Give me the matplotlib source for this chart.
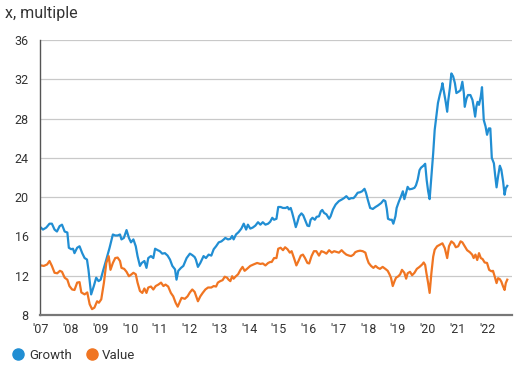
import matplotlib
matplotlib.use("Agg")
import matplotlib.pyplot as plt
from matplotlib.lines import Line2D

# chart data (decimal years)
growth_t = [2007.00, 2007.07, 2007.18, 2007.29, 2007.37, 2007.46, 2007.54, 2007.63, 2007.71, 2007.80,
            2007.89, 2007.94, 2008.02, 2008.08, 2008.13, 2008.22, 2008.30, 2008.39, 2008.47, 2008.55,
            2008.60, 2008.69, 2008.78, 2008.86, 2008.94, 2009.01, 2009.09, 2009.20, 2009.31, 2009.42,
            2009.50, 2009.58, 2009.66, 2009.71, 2009.79, 2009.88, 2009.96, 2010.03, 2010.11, 2010.19,
            2010.25, 2010.33, 2010.39, 2010.48, 2010.55, 2010.61, 2010.70, 2010.78, 2010.84, 2010.93,
            2011.00, 2011.08, 2011.17, 2011.26, 2011.34, 2011.42, 2011.51, 2011.56, 2011.62, 2011.71,
            2011.79, 2011.90, 2012.01, 2012.09, 2012.17, 2012.21, 2012.28, 2012.36, 2012.47, 2012.55,
            2012.64, 2012.73, 2012.81, 2012.89, 2012.98, 2013.07, 2013.15, 2013.20, 2013.29, 2013.37,
            2013.43, 2013.48, 2013.56, 2013.65, 2013.74, 2013.82, 2013.90, 2013.96, 2014.04, 2014.12,
            2014.21, 2014.30, 2014.38, 2014.46, 2014.55, 2014.64, 2014.71, 2014.78, 2014.84, 2014.92,
            2014.98, 2015.06, 2015.14, 2015.23, 2015.29, 2015.34, 2015.40, 2015.45, 2015.51, 2015.57,
            2015.62, 2015.68, 2015.76, 2015.82, 2015.88, 2015.96, 2016.02, 2016.07, 2016.13, 2016.21,
            2016.27, 2016.35, 2016.41, 2016.46, 2016.52, 2016.60, 2016.69, 2016.74, 2016.82, 2016.91,
            2017.02, 2017.11, 2017.19, 2017.27, 2017.36, 2017.43, 2017.51, 2017.57, 2017.65, 2017.73,
            2017.80, 2017.88, 2017.93, 2017.99, 2018.07, 2018.16, 2018.25, 2018.33, 2018.44, 2018.52,
            2018.58, 2018.63, 2018.67, 2018.74, 2018.80, 2018.85, 2018.92, 2018.96, 2019.03, 2019.11,
            2019.17, 2019.22, 2019.28, 2019.33, 2019.39, 2019.48, 2019.56, 2019.61, 2019.67, 2019.73,
            2019.78, 2019.86, 2019.92, 2019.97, 2020.02, 2020.07, 2020.13, 2020.19, 2020.24, 2020.30,
            2020.35, 2020.41, 2020.47, 2020.50, 2020.55, 2020.61, 2020.66, 2020.69, 2020.75, 2020.80,
            2020.86, 2020.92, 2020.97, 2021.05, 2021.11, 2021.17, 2021.22, 2021.25, 2021.31, 2021.36,
            2021.44, 2021.51, 2021.55, 2021.60, 2021.64, 2021.68, 2021.73, 2021.79, 2021.83, 2021.89,
            2021.95, 2022.00, 2022.06, 2022.11, 2022.16, 2022.23, 2022.27, 2022.32, 2022.37, 2022.43,
            2022.48, 2022.54, 2022.59, 2022.63, 2022.68]
growth_v = [16.9, 16.7, 16.9, 17.3, 17.3, 16.7, 16.5, 17.05, 17.2, 16.5,
            16.4, 14.85, 14.7, 14.75, 14.3, 14.85, 15.0, 14.3, 13.8, 13.65,
            12.6, 10.1, 10.95, 11.8, 11.45, 11.6, 12.5, 13.65, 14.85, 16.2,
            16.1, 16.1, 16.2, 15.7, 15.85, 16.65, 15.85, 15.4, 15.7, 15.0,
            14.0, 13.0, 13.3, 13.5, 12.8, 13.8, 14.0, 13.8, 14.75, 14.6,
            14.5, 14.25, 14.3, 14.05, 13.65, 13.0, 12.65, 11.6, 12.5, 12.8,
            13.0, 13.8, 14.25, 14.1, 13.9, 13.65, 12.9, 13.3, 14.0, 13.8,
            14.15, 14.05, 14.7, 15.0, 15.4, 15.5, 15.7, 15.85, 15.7, 15.75,
            16.05, 15.7, 16.2, 16.45, 16.8, 17.3, 16.7, 17.2, 16.8, 16.9,
            17.1, 17.45, 17.2, 17.45, 17.2, 17.3, 17.5, 17.9, 17.7, 17.8,
            19.0, 19.0, 18.9, 18.9, 19.0, 18.75, 18.9, 18.4, 17.7, 16.95,
            17.4, 18.05, 18.35, 18.15, 17.7, 17.1, 17.05, 17.7, 17.9, 17.7,
            18.0, 18.05, 18.55, 18.7, 18.4, 18.25, 17.8, 18.05, 18.75, 19.25,
            19.6, 19.75, 19.9, 20.1, 19.8, 19.9, 19.9, 20.1, 20.45, 20.5,
            20.6, 20.85, 20.45, 19.75, 18.9, 18.8, 19.0, 19.15, 19.4, 19.7,
            19.6, 18.8, 17.8, 17.7, 17.7, 17.3, 18.05, 18.9, 19.5, 20.1,
            20.6, 19.8, 20.45, 21.05, 20.8, 20.85, 20.95, 21.2, 21.8, 22.75,
            23.0, 23.2, 23.4, 21.75, 20.6, 19.8, 22.1, 24.5, 26.85, 28.4,
            29.6, 30.4, 31.1, 31.6, 30.75, 29.7, 28.7, 29.7, 31.1, 32.6,
            32.3, 31.6, 30.6, 30.75, 30.9, 31.75, 30.6, 29.2, 30.05, 30.4,
            30.4, 29.9, 29.2, 28.2, 29.2, 29.7, 29.4, 30.25, 31.2, 27.85,
            27.2, 26.35, 27.0, 27.0, 24.0, 23.45, 22.3, 21.0, 22.1, 23.2,
            22.8, 21.6, 20.25, 20.9, 21.15]

value_t = [2007.00, 2007.10, 2007.21, 2007.29, 2007.37, 2007.46, 2007.55, 2007.64, 2007.71, 2007.80,
           2007.89, 2007.96, 2008.05, 2008.13, 2008.22, 2008.30, 2008.36, 2008.47, 2008.56, 2008.64,
           2008.72, 2008.80, 2008.89, 2008.95, 2009.03, 2009.12, 2009.20, 2009.28, 2009.34, 2009.42,
           2009.50, 2009.58, 2009.66, 2009.71, 2009.80, 2009.88, 2009.96, 2010.05, 2010.11, 2010.19,
           2010.25, 2010.33, 2010.41, 2010.48, 2010.55, 2010.61, 2010.70, 2010.78, 2010.86, 2010.95,
           2011.04, 2011.12, 2011.19, 2011.28, 2011.37, 2011.45, 2011.53, 2011.60, 2011.68, 2011.73,
           2011.84, 2011.93, 2012.01, 2012.09, 2012.17, 2012.24, 2012.28, 2012.36, 2012.44, 2012.53,
           2012.62, 2012.73, 2012.81, 2012.89, 2012.95, 2013.03, 2013.11, 2013.18, 2013.26, 2013.31,
           2013.37, 2013.43, 2013.48, 2013.54, 2013.63, 2013.71, 2013.78, 2013.85, 2013.93, 2014.04,
           2014.15, 2014.27, 2014.38, 2014.46, 2014.55, 2014.64, 2014.71, 2014.76, 2014.84, 2014.92,
           2014.98, 2015.06, 2015.14, 2015.21, 2015.29, 2015.37, 2015.43, 2015.51, 2015.59, 2015.66,
           2015.74, 2015.81, 2015.88, 2015.96, 2016.02, 2016.10, 2016.18, 2016.26, 2016.35, 2016.43,
           2016.52, 2016.60, 2016.69, 2016.78, 2016.86, 2016.97, 2017.02, 2017.11, 2017.19, 2017.27,
           2017.36, 2017.43, 2017.51, 2017.57, 2017.65, 2017.73, 2017.82, 2017.91, 2017.96, 2018.02,
           2018.10, 2018.18, 2018.25, 2018.33, 2018.40, 2018.49, 2018.58, 2018.66, 2018.72, 2018.77,
           2018.83, 2018.89, 2018.94, 2019.02, 2019.08, 2019.14, 2019.22, 2019.28, 2019.33, 2019.41,
           2019.48, 2019.56, 2019.64, 2019.73, 2019.82, 2019.87, 2019.92, 2019.96, 2020.02, 2020.07,
           2020.13, 2020.19, 2020.24, 2020.32, 2020.41, 2020.50, 2020.58, 2020.66, 2020.72, 2020.80,
           2020.88, 2020.95, 2021.03, 2021.11, 2021.17, 2021.25, 2021.33, 2021.42, 2021.50, 2021.55,
           2021.61, 2021.67, 2021.73, 2021.79, 2021.85, 2021.92, 2022.00, 2022.07, 2022.15, 2022.20,
           2022.26, 2022.32, 2022.37, 2022.43, 2022.48, 2022.54, 2022.59, 2022.63, 2022.68]
value_v = [13.05, 13.0, 13.15, 13.5, 13.0, 12.3, 12.25, 12.5, 12.4, 11.8,
           11.6, 10.95, 10.6, 10.55, 11.3, 11.35, 10.3, 10.1, 10.3, 9.1,
           8.6, 8.75, 9.4, 9.25, 9.6, 11.3, 13.3, 14.0, 12.6, 13.3,
           13.8, 13.85, 13.5, 12.8, 12.7, 12.4, 11.95, 12.15, 12.3, 12.15,
           11.3, 10.45, 10.25, 10.7, 10.25, 10.8, 10.9, 10.6, 10.95, 11.1,
           11.3, 10.95, 11.1, 10.9, 10.25, 9.9, 9.25, 8.85, 9.4, 9.75,
           9.65, 9.9, 10.3, 10.6, 10.35, 9.75, 9.4, 9.9, 10.25, 10.6,
           10.8, 10.8, 10.95, 10.9, 11.3, 11.45, 11.55, 11.9, 11.8, 11.6,
           11.45, 11.95, 11.7, 11.9, 12.15, 12.6, 12.9, 12.5, 12.7, 13.0,
           13.15, 13.3, 13.2, 13.25, 13.05, 13.3, 13.4, 13.4, 13.8, 13.8,
           14.75, 14.85, 14.6, 14.9, 14.7, 14.35, 14.5, 13.8, 13.05, 13.5,
           14.05, 14.15, 13.8, 13.3, 13.25, 14.0, 14.5, 14.5, 14.05, 14.5,
           14.4, 14.25, 14.6, 14.35, 14.5, 14.4, 14.35, 14.6, 14.35, 14.15,
           14.05, 14.0, 14.15, 14.4, 14.5, 14.55, 14.5, 14.35, 13.8, 13.3,
           13.0, 12.8, 13.0, 12.8, 12.7, 12.9, 12.7, 12.5, 12.15, 11.8,
           10.95, 11.45, 11.8, 11.95, 12.15, 12.6, 12.3, 11.7, 12.25, 12.4,
           12.05, 12.3, 12.7, 12.9, 13.15, 13.35, 13.1, 12.3, 11.25, 10.25,
           12.3, 13.95, 14.65, 15.0, 15.15, 15.3, 14.8, 13.8, 15.0, 15.5,
           15.3, 14.9, 15.0, 15.5, 15.4, 15.0, 14.6, 14.4, 14.15, 13.8,
           14.15, 13.6, 14.3, 13.8, 13.7, 13.35, 13.3, 12.6, 12.45, 12.5,
           11.9, 11.25, 11.75, 11.65, 11.4, 10.9, 10.55, 11.25, 11.6]

years = list(range(2007, 2023))
year_labels = ["'" + str(y)[2:] for y in years]
y_ticks = [8, 12, 16, 20, 24, 28, 32, 36]

blue = "#218ed3"
orange = "#f07522"
text_col = "#333333"

plt.rcParams['font.family'] = ['Roboto', 'DejaVu Sans']

fig = plt.figure(figsize=(5.22, 3.70), dpi=100)
ax = fig.add_axes([0.0766, 0.1486, 0.9043, 0.7432])

ax.plot(growth_t, growth_v, color=blue, linewidth=1.6, solid_joinstyle='round')
ax.plot(value_t, value_v, color=orange, linewidth=1.6, solid_joinstyle='round')

ax.set_xlim(2006.97, 2022.84)
ax.set_ylim(8, 36)
ax.set_yticks(y_ticks)
ax.set_xticks(years)
ax.set_xticklabels(year_labels)

ax.grid(axis='y', color='#c9c9c9', linewidth=0.9)
ax.set_axisbelow(True)
ax.tick_params(length=0, labelsize=9, colors=text_col)
ax.tick_params(axis='y', pad=8)
ax.tick_params(axis='x', pad=6)

for side in ['top', 'right']:
    ax.spines[side].set_visible(False)
ax.spines['left'].set_color('#555555')
ax.spines['left'].set_linewidth(1.0)
ax.spines['bottom'].set_color('#777777')
ax.spines['bottom'].set_linewidth(1.6)

fig.text(0.01, 0.985, "x, multiple", fontsize=11.5, color=text_col, va='top', ha='left')

handles = [Line2D([], [], marker='o', linestyle='none', color=blue, markersize=8, label='Growth'),
           Line2D([], [], marker='o', linestyle='none', color=orange, markersize=8, label='Value')]
fig.legend(handles=handles, loc='lower left', bbox_to_anchor=(0.0, -0.01), ncol=2, frameon=False,
           fontsize=9.5, handlelength=1.0, handletextpad=0.3, columnspacing=1.0,
           labelcolor=text_col)

fig.savefig("out.png", dpi=100)
